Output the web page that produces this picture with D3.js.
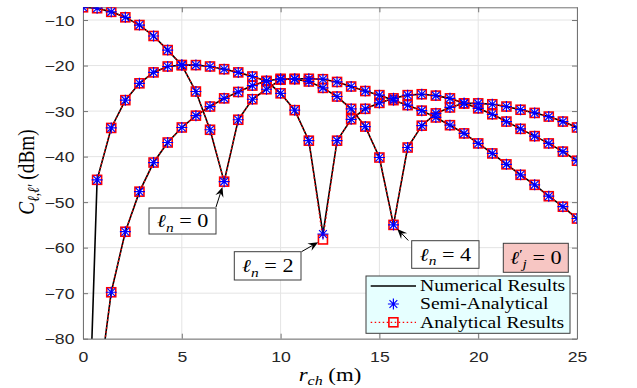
<!DOCTYPE html>
<html>
<head>
<meta charset="utf-8">
<script src="https://cdn.jsdelivr.net/npm/d3@7"></script>
<style>
	body { margin: 0; background: #fff; }
</style>
</head>
<body>
<svg id="chart" width="637" height="388"></svg>
<script>

// distance grid (m)
const rCh = [0, 0.714, 1.429, 2.143, 2.857, 3.571, 4.286, 5, 5.714, 6.429, 7.143, 7.857,
	8.571, 9.286, 10, 10.714, 11.429, 12.143, 12.857, 13.571, 14.286, 15, 15.714, 16.429,
	17.143, 17.857, 18.571, 19.286, 20, 20.714, 21.429, 22.143, 22.857, 23.571, 24.286, 25];

// numerical results (dBm)
const numL0 = [-7.2, -7.4, -8.2, -9.4, -11.1, -13.5, -16.6, -19.9, -25.7, -34.1, -45.5, -31.9,
	-27.4, -25.2, -23.1, -22.9, -22.9, -23.0, -23.6, -24.6, -25.6, -26.5, -27.6, -28.7,
	-29.9, -31.4, -33.1, -34.9, -37.1, -39.3, -41.7, -44.0, -46.2, -48.7, -51.0, -53.6];
const numL2 = [-140, -45.1, -33.7, -27.6, -23.9, -21.5, -20.2, -19.9, -19.9, -20.2, -20.8, -21.5,
	-22.4, -23.4, -26.1, -29.8, -36.5, -57.0, -36.5, -31.8, -29.5, -28.2, -27.2, -26.5,
	-26.3, -26.6, -27.2, -28.3, -29.4, -30.7, -32.3, -33.9, -35.5, -37.1, -38.9, -40.9];
const numL4 = [null, -93.5, -69.8, -56.5, -47.7, -41.3, -36.9, -33.6, -31.0, -29.0, -27.2, -25.8,
	-24.4, -23.4, -22.9, -23.0, -23.5, -24.9, -26.8, -29.5, -33.4, -40.2, -55.0, -38.0,
	-33.2, -30.5, -29.2, -28.3, -28.3, -28.5, -29.0, -29.7, -30.4, -31.2, -32.3, -33.6];

// semi-analytical (dBm)
const semiL0 = [-7.2, -7.4, -8.2, -9.4, -11.1, -13.5, -16.6, -19.9, -25.7, -34.1, -45.5, -31.9,
	-27.4, -25.2, -23.1, -22.9, -22.9, -23.0, -23.6, -24.6, -25.6, -26.5, -27.6, -28.7,
	-29.9, -31.4, -33.1, -34.9, -37.1, -39.3, -41.7, -44.0, -46.2, -48.7, -51.0, -53.6];
const semiL2 = [null, -45.1, -33.7, -27.6, -23.9, -21.5, -20.2, -19.9, -19.9, -20.2, -20.8, -21.5,
	-22.4, -23.4, -26.1, -29.8, -36.5, -57.0, -36.5, -31.8, -29.5, -28.2, -27.2, -26.5,
	-26.3, -26.6, -27.2, -28.3, -29.4, -30.7, -32.3, -33.9, -35.5, -37.1, -38.9, -40.9];
const semiL4 = [null, -93.5, -69.8, -56.5, -47.7, -41.3, -36.9, -33.6, -31.0, -29.0, -27.2, -25.8,
	-24.4, -23.4, -22.9, -23.0, -23.5, -24.9, -26.8, -29.5, -33.4, -40.2, -55.0, -38.0,
	-33.2, -30.5, -29.2, -28.3, -28.3, -28.5, -29.0, -29.7, -30.4, -31.2, -32.3, -33.6];

// analytical results (dBm)
const anaL0 = [-7.2, -7.4, -8.2, -9.4, -11.1, -13.5, -16.6, -19.9, -25.7, -34.1, -45.5, -31.9,
	-27.4, -25.2, -23.1, -22.9, -22.9, -23.0, -23.6, -24.6, -25.6, -26.5, -27.6, -28.7,
	-29.9, -31.4, -33.1, -34.9, -37.1, -39.3, -41.7, -44.0, -46.2, -48.7, -51.0, -53.6];
const anaL2 = [null, -45.1, -33.7, -27.6, -23.9, -21.5, -20.2, -19.9, -19.9, -20.2, -20.8, -21.5,
	-22.4, -23.4, -26.1, -29.8, -36.5, -58.2, -36.5, -31.8, -29.5, -28.2, -27.2, -26.5,
	-26.3, -26.6, -27.2, -28.3, -29.4, -30.7, -32.3, -33.9, -35.5, -37.1, -38.9, -40.9];
const anaL4 = [null, -93.5, -69.8, -56.5, -47.7, -41.3, -36.9, -33.6, -31.0, -29.0, -27.2, -25.8,
	-24.4, -23.4, -22.9, -23.0, -23.5, -24.9, -26.8, -29.5, -33.4, -40.2, -55.0, -38.0,
	-33.2, -30.5, -29.2, -28.3, -28.3, -28.5, -29.0, -29.7, -30.4, -31.2, -32.3, -33.6];

const xTicks = [0, 5, 10, 15, 20, 25];
const yTicks = [-80, -70, -60, -50, -40, -30, -20, -10];
const legendLabels = ["Numerical Results", "Semi-Analytical", "Analytical Results"];


var svg = d3.select("#chart");

var pLeft = 83, pRight = 577, pTop = 7.3, pBottom = 338.7,
	sx = 1.14, sy = 0.92,  // figure was resized: text looks wide
	axisColor = "#737373", textColor = "#262626";

var x = d3.scaleLinear().domain([0, 25]).range([pLeft, pRight]);
var y = d3.scaleLinear().domain([-80, -7.2]).range([pBottom, pTop]);

// grid
svg.append("g")
	.attr("stroke", "#e4e4e4")
	.selectAll("line")
	.data(xTicks)
	.join("line")
	.attr("x1", d => x(d)).attr("x2", d => x(d))
	.attr("y1", pTop).attr("y2", pBottom);
svg.append("g")
	.attr("stroke", "#e4e4e4")
	.selectAll("line")
	.data(yTicks)
	.join("line")
	.attr("y1", d => y(d)).attr("y2", d => y(d))
	.attr("x1", pLeft).attr("x2", pRight);

// axes, ticks pointing inside like matlab
function styleAxis(g) {
	g.select(".domain").attr("stroke", axisColor);
	g.selectAll(".tick line").attr("stroke", axisColor);
	g.selectAll("text")
		.attr("fill", textColor)
		.attr("font-family", "'Liberation Sans', Arial, sans-serif")
		.attr("font-size", 15.5);
}

var gx = svg.append("g")
	.attr("transform", `translate(0,${pBottom})`)
	.call(d3.axisBottom(x).tickValues(xTicks).tickSizeInner(-5).tickSizeOuter(0));
styleAxis(gx);
gx.selectAll("text")
	.attr("y", null).attr("dy", null)
	.attr("transform", `translate(0,23.3) scale(${sx},${sy})`);

var gy = svg.append("g")
	.attr("transform", `translate(${pLeft},0)`)
	.call(d3.axisLeft(y).tickValues(yTicks).tickSizeInner(-5).tickSizeOuter(0));
styleAxis(gy);
gy.selectAll("text")
	.attr("x", null).attr("dy", null)
	.attr("transform", `translate(-8.5,5.2) scale(${sx},${sy})`);

var gt = svg.append("g")
	.attr("transform", `translate(0,${pTop})`)
	.call(d3.axisTop(x).tickValues(xTicks).tickSizeInner(-5).tickSizeOuter(0).tickFormat(""));
styleAxis(gt);

var gr = svg.append("g")
	.attr("transform", `translate(${pRight},0)`)
	.call(d3.axisRight(y).tickValues(yTicks).tickSizeInner(-5).tickSizeOuter(0).tickFormat(""));
styleAxis(gr);

// clip to the axes box
svg.append("clipPath").attr("id", "clip")
	.append("rect")
	.attr("x", pLeft).attr("y", pTop)
	.attr("width", pRight - pLeft).attr("height", pBottom - pTop);

var plotArea = svg.append("g").attr("clip-path", "url(#clip)");

function pairs(vals) {
	return rCh.map((r, i) => ({ r: r, v: vals[i] }));
}

var line = d3.line()
	.defined(d => d.v != null)
	.x(d => x(d.r))
	.y(d => y(d.v));

// numerical: black solid
plotArea.append("g")
	.attr("fill", "none")
	.attr("stroke", "#000")
	.attr("stroke-width", 1.6)
	.selectAll("path")
	.data([numL0, numL2, numL4])
	.join("path")
	.attr("d", d => line(pairs(d)));

// analytical: red dotted
plotArea.append("g")
	.attr("fill", "none")
	.attr("stroke", "#ff0000")
	.attr("stroke-width", 1.3)
	.attr("stroke-dasharray", "1.5,2.5")
	.selectAll("path")
	.data([anaL0, anaL2, anaL4])
	.join("path")
	.attr("d", d => line(pairs(d)));

// analytical: red squares
var sq = 9;
plotArea.append("g")
	.attr("fill", "none")
	.attr("stroke", "#ff0000")
	.attr("stroke-width", 1.6)
	.selectAll("rect")
	.data([anaL0, anaL2, anaL4].flatMap(pairs).filter(d => d.v != null))
	.join("rect")
	.attr("x", d => x(d.r) - sq / 2)
	.attr("y", d => y(d.v) - sq / 2)
	.attr("width", sq).attr("height", sq);

// semi-analytical: blue asterisks
function asterisk(cx, cy) {
	var a = 5.5, b = 3.9;
	return `M${cx - a},${cy}H${cx + a}M${cx},${cy - a}V${cy + a}` +
		`M${cx - b},${cy - b}L${cx + b},${cy + b}M${cx - b},${cy + b}L${cx + b},${cy - b}`;
}
plotArea.append("g")
	.attr("fill", "none")
	.attr("stroke", "#0000ff")
	.attr("stroke-width", 1.2)
	.selectAll("path")
	.data([semiL0, semiL2, semiL4].flatMap(pairs).filter(d => d.v != null))
	.join("path")
	.attr("d", d => asterisk(x(d.r), y(d.v)));

// text helper: serif "math" text, stretched like the figure
function mathText(cx, cy, anchor, size, parts) {
	var t = svg.append("text")
		.attr("transform", `translate(${cx},${cy}) scale(${sx},${sy})`)
		.attr("text-anchor", anchor)
		.attr("font-family", "'Liberation Serif', 'DejaVu Serif', serif")
		.attr("font-size", size)
		.attr("fill", "#000");
	parts.forEach(p => {
		var s = t.append("tspan").text(p.t);
		if (p.i) s.attr("font-style", "italic");
		if (p.fs) s.attr("font-size", p.fs);
		if (p.dy) s.attr("dy", p.dy);
		if (p.dx) s.attr("dx", p.dx);
	});
	return t;
}

function box(x0, y0, x1, y1, fill) {
	svg.append("rect")
		.attr("x", x0).attr("y", y0)
		.attr("width", x1 - x0).attr("height", y1 - y0)
		.attr("fill", fill)
		.attr("stroke", "#3c3c3c")
		.attr("stroke-width", 1);
}

function arrow(x0, y0, px, py) {
	// px,py = marker the arrow points at, stop a bit short of it
	var dx = px - x0, dy = py - y0, len = Math.hypot(dx, dy);
	var ux = dx / len, uy = dy / len;
	var tx = px - ux * 5.5, ty = py - uy * 5.5;
	var hl = 10, hw = 4.2;
	var bx = tx - ux * hl, by = ty - uy * hl;
	var nx = tx - ux * hl * 0.65, ny = ty - uy * hl * 0.65;
	svg.append("line")
		.attr("x1", x0).attr("y1", y0).attr("x2", nx).attr("y2", ny)
		.attr("stroke", "#000").attr("stroke-width", 1);
	svg.append("path")
		.attr("d", `M${tx},${ty}L${bx - uy * hw},${by + ux * hw}L${nx},${ny}L${bx + uy * hw},${by - ux * hw}Z`)
		.attr("fill", "#000");
}

// annotations
var sub = 5, fsA = 19.5, fsS = 13.5;
arrow(216, 207, x(rCh[10]), y(anaL0[10]));
box(149, 208, 216, 234, "#fff");
mathText(182.5, 227.3, "middle", fsA, [
	{ t: "ℓ", i: true }, { t: "n", i: true, fs: fsS, dy: sub }, { t: " = 0", dy: -sub }]);

arrow(301.5, 251.7, x(rCh[17]), y(anaL2[17]));
box(234.3, 251.7, 301, 280, "#fff");
mathText(267.7, 272, "middle", fsA, [
	{ t: "ℓ", i: true }, { t: "n", i: true, fs: fsS, dy: sub }, { t: " = 2", dy: -sub }]);

arrow(408.3, 240.5, x(rCh[22]), y(anaL4[22]));
box(411.7, 240.7, 479, 268.3, "#fff");
mathText(445.3, 260.7, "middle", fsA, [
	{ t: "ℓ", i: true }, { t: "n", i: true, fs: fsS, dy: sub }, { t: " = 4", dy: -sub }]);

box(503.3, 243.3, 568.3, 272.3, "#f7c6c3");
mathText(535.8, 263.7, "middle", fsA, [
	{ t: "ℓ", i: true }, { t: "′", fs: fsS, dy: -6 }, { t: "j", i: true, fs: fsS, dy: 11 },
	{ t: " = 0", dy: -5 }]);

// legend
box(366, 276, 570, 333.3, "#e6ffff");
var rows = [286, 304, 322.3];
svg.append("line")
	.attr("x1", 370.7).attr("x2", 416).attr("y1", rows[0]).attr("y2", rows[0])
	.attr("stroke", "#000").attr("stroke-width", 1.6);
svg.append("path")
	.attr("d", asterisk(393.4, rows[1]))
	.attr("fill", "none").attr("stroke", "#0000ff").attr("stroke-width", 1.2);
svg.append("line")
	.attr("x1", 370.7).attr("x2", 416).attr("y1", rows[2]).attr("y2", rows[2])
	.attr("stroke", "#ff0000").attr("stroke-width", 1.3).attr("stroke-dasharray", "1.5,2.5");
svg.append("rect")
	.attr("x", 393.4 - sq / 2).attr("y", rows[2] - sq / 2)
	.attr("width", sq).attr("height", sq)
	.attr("fill", "none").attr("stroke", "#ff0000").attr("stroke-width", 1.6);
legendLabels.forEach((lab, i) => {
	mathText(420, rows[i] + 5.3, "start", 17.2, [{ t: lab }]);
});

// axis labels
mathText(330, 381, "middle", 20, [
	{ t: "r", i: true }, { t: "ch", i: true, fs: 14, dy: 4 }, { t: " (m)", dy: -4 }]);

var yl = svg.append("text")
	.attr("transform", `translate(34,172) scale(${sx},${sy}) rotate(-90)`)
	.attr("text-anchor", "middle")
	.attr("font-family", "'Liberation Serif', 'DejaVu Serif', serif")
	.attr("font-size", 21)
	.attr("fill", "#000");
yl.append("tspan").attr("font-style", "italic").text("C");
yl.append("tspan").attr("font-style", "italic").attr("font-size", 14.5).attr("dy", 4).text("ℓ,ℓ′");
yl.append("tspan").attr("dy", -4).text(" (dBm)");

</script>
</body>
</html>
